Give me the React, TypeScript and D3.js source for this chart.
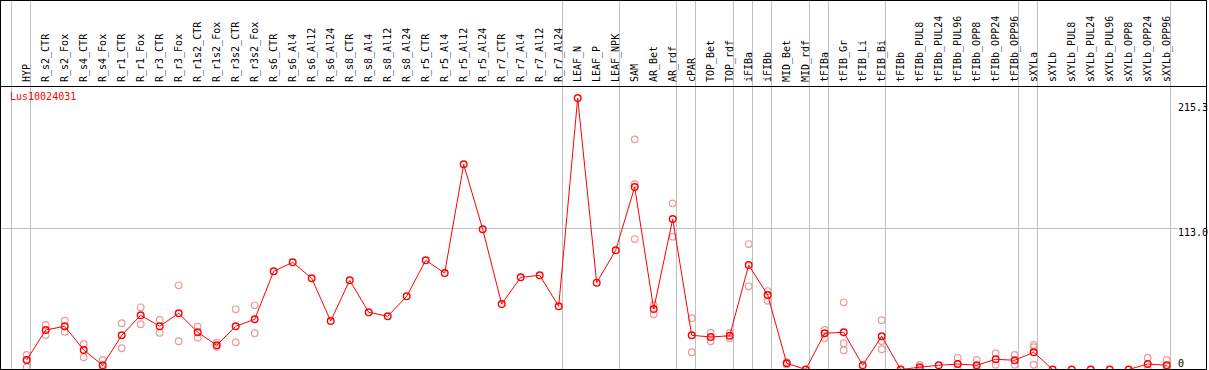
import React from "react";
import * as d3 from "d3";

const title = "Lus10024031";

const categories = [
  "HYP", "R_s2_CTR", "R_s2_Fox", "R_s4_CTR", "R_s4_Fox", "R_r1_CTR", "R_r1_Fox",
  "R_r3_CTR", "R_r3_Fox", "R_r1s2_CTR", "R_r1s2_Fox", "R_r3s2_CTR", "R_r3s2_Fox",
  "R_s6_CTR", "R_s6_Al4", "R_s6_Al12", "R_s6_Al24", "R_s8_CTR", "R_s8_Al4",
  "R_s8_Al12", "R_s8_Al24", "R_r5_CTR", "R_r5_Al4", "R_r5_Al12", "R_r5_Al24",
  "R_r7_CTR", "R_r7_Al4", "R_r7_Al12", "R_r7_Al24", "LEAF_N", "LEAF_P", "LEAF_NPK",
  "SAM", "AR_Bet", "AR_rdf", "cPAR", "TOP_Bet", "TOP_rdf", "iFIBa", "iFIBb",
  "MID_Bet", "MID_rdf", "tFIBa", "tFIB_Gr", "tFIB_Li", "tFIB_Bi", "tFIBb",
  "tFIBb_PUL8", "tFIBb_PUL24", "tFIBb_PUL96", "tFIBb_OPP8", "tFIBb_OPP24", "tFIBb_OPP96",
  "sXYLa", "sXYLb", "sXYLb_PUL8", "sXYLb_PUL24", "sXYLb_PUL96", "sXYLb_OPP8",
  "sXYLb_OPP24", "sXYLb_OPP96",
];

const meanValues = [
  7.6, 31.6, 34.6, 15.6, 3.4, 27.4, 43.4, 34.6, 45.0, 29.8, 19.4, 34.6, 40.2,
  78.6, 85.8, 73.0, 38.8, 71.4, 45.8, 42.6, 58.6, 87.4, 77.2, 164.2, 112.2,
  52.4, 73.8, 75.4, 50.6, 217.3, 69.5, 95.4,
  146.0, 48.4, 120.4, 27.4, 26.0, 27.0, 83.6, 59.6, 5.0, 0, 29.0, 29.8, 3.4, 26.6, 0,
  1.8, 3.4, 4.4, 3.4, 8.2, 7.4, 13.8, 0, 0, 0, 0, 0, 4.4, 3.4,
];

const replicateValues: number[][] = [
  [11.6, 7.6, 1.8], [35.6, 27.6], [39.0, 30.2], [20.4, 9.8], [7.6, 0.4],
  [37.0, 17.0], [49.8, 36.2], [39.6, 29.4], [67.4, 22.6], [34.3, 25.4],
  [21.4, 18.2], [48.2, 21.8], [51.4, 29.0],
  [], [], [], [], [], [], [], [], [], [], [], [], [], [], [], [], [], [], [],
  [184.2, 148.4, 104.4], [51.6, 44.2], [133.0, 106.3], [41.0, 13.8], [29.4, 22.6],
  [29.2, 25.0], [100.4, 66.6], [62.8, 55.0], [5.8, 4.2], [],
  [31.6, 25.2], [53.8, 21.0, 15.4], [], [39.4, 22.8, 16.2], [],
  [3.6, 0], [], [9.4, 0], [7.6, 0], [13.0, 3.8], [11.6, 3.8],
  [19.6, 17.8, 3.8], [], [], [], [], [], [9.4, 0], [7.6, 0],
];

const groupStarts = [0, 1, 29, 32, 35, 36, 38, 39, 40, 42, 43, 46, 53, 54, 61];

const yTicks = [215.3, 113.0, 0];

const W = 1209;
const H = 370;
const RED = "#ff0000";
const PINK = "#ec9a9a";
const GRID = "#c0c0c0";
const FONT = "'DejaVu Sans Mono', monospace";

export default function App() {
  const x = d3.scaleLinear().domain([0, categories.length - 1]).range([26.7, 1166.7]);
  const y = d3.scaleLinear().domain([0, 215.3]).range([369.5, 100.5]);
  const line = d3
    .line<number>()
    .x((_, i) => x(i))
    .y((d) => y(d));

  const tickOffset = (t: number, i: number) => (i === 0 ? 10 : t === 0 ? -3 : 8);

  return (
    <svg
      width={W}
      height={H}
      style={{ position: "absolute", left: 0, top: 0, background: "#fff" }}
      fontFamily={FONT}
    >
      <rect x={0} y={0} width={W} height={H} fill="#fff" />
      {/* group separators */}
      {groupStarts.map((g) => {
        const gx = Math.round(x(g) - 15.5) + 0.5;
        return (
          <line key={"s" + g} x1={gx} x2={gx} y1={0} y2={369} stroke={GRID} strokeWidth={1} shapeRendering="crispEdges" />
        );
      })}
      {/* horizontal grid at middle tick */}
      <line x1={1} x2={1178} y1={Math.round(y(113.0)) + 0.5} y2={Math.round(y(113.0)) + 0.5} stroke={GRID} strokeWidth={1} shapeRendering="crispEdges" />
      {/* column labels */}
      {categories.map((c, i) => (
        <text
          key={c}
          transform={`translate(${x(i) + 3},82) rotate(-90)`}
          fontSize={10}
          fill="#000"
        >
          {c}
        </text>
      ))}
      {/* y tick labels */}
      {yTicks.map((t, i) => (
        <text key={"t" + t} x={1178} y={y(t) + tickOffset(t, i)} fontSize={10} fill="#000">
          {t === 0 ? "0" : t.toFixed(1)}
        </text>
      ))}
      <text x={10} y={100} fontSize={10} fill={RED}>
        {title}
      </text>
      {/* replicates */}
      {replicateValues.map((reps, i) =>
        reps.map((v, j) => (
          <circle key={`r${i}-${j}`} cx={x(i)} cy={y(v)} r={3.3} fill="none" stroke={PINK} strokeWidth={1.2} />
        ))
      )}
      {/* mean line */}
      <path d={line(meanValues) || ""} fill="none" stroke={RED} strokeWidth={1} />
      {meanValues.map((v, i) => (
        <circle key={"m" + i} cx={x(i)} cy={y(v)} r={3.3} fill="none" stroke={RED} strokeWidth={1.4} />
      ))}
      {/* frame */}
      <line x1={0} x2={1207} y1={86.5} y2={86.5} stroke="#000" strokeWidth={1} shapeRendering="crispEdges" />
      <rect x={0.5} y={0.5} width={1206} height={369} fill="none" stroke="#000" strokeWidth={1} shapeRendering="crispEdges" />
    </svg>
  );
}
